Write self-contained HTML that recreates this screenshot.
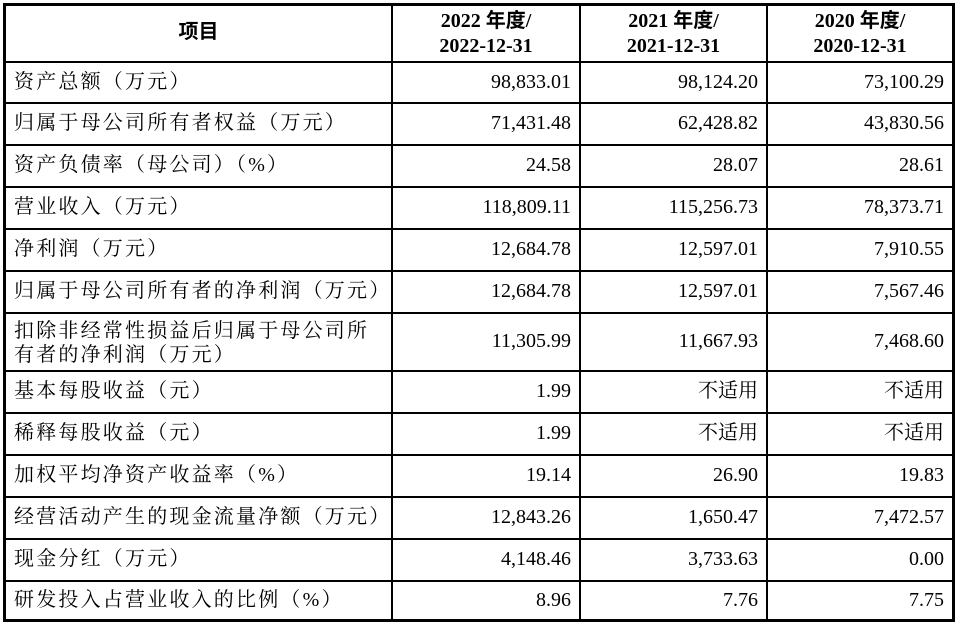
<!DOCTYPE html>
<html><head><meta charset="utf-8"><style>
body{margin:0;background:#fff;width:960px;height:626px;position:relative;overflow:hidden;font-family:"Liberation Serif","Noto Serif CJK SC",serif;color:#000}
.b{position:absolute;background:#000}
.t{position:absolute;font-size:20px;line-height:21px;white-space:nowrap}
.c{font-family:"Liberation Serif","Noto Serif CJK SC",serif}
.lab{letter-spacing:2.2px}
.r{text-align:right}
.h{font-weight:bold;text-align:center;font-size:20px}
.hs{font-family:"Liberation Sans","Noto Sans CJK SC",sans-serif}
</style></head><body>
<div class="b" style="left:3px;top:3px;width:952px;height:3px"></div>
<div class="b" style="left:3px;top:619px;width:952px;height:3px"></div>
<div class="b" style="left:3px;top:3px;width:3px;height:619px"></div>
<div class="b" style="left:952px;top:3px;width:3px;height:619px"></div>
<div class="b" style="left:391px;top:3px;width:2px;height:619px"></div>
<div class="b" style="left:579px;top:3px;width:2px;height:619px"></div>
<div class="b" style="left:766px;top:3px;width:2px;height:619px"></div>
<div id="lines"></div>
<div class="t h hs" style="left:6px;width:385px;top:22px">项目</div>
<div class="t h" style="left:393px;width:186px;top:9px;line-height:25px">2022 <span class="hs">年度</span>/<br>2022-12-31</div>
<div class="t h" style="left:581px;width:185px;top:9px;line-height:25px">2021 <span class="hs">年度</span>/<br>2021-12-31</div>
<div class="t h" style="left:768px;width:184px;top:9px;line-height:25px">2020 <span class="hs">年度</span>/<br>2020-12-31</div>
<div id="rows"></div>
<script>
var ys=[61,102,144,186,228,270,312,370,412,454,496,538,580,620];
var L=document.getElementById('lines'),h='';
for(var i=0;i<ys.length-1;i++)h+='<div class="b" style="left:3px;top:'+ys[i]+'px;width:952px;height:2px"></div>';
L.innerHTML=h;
var d=[["资产总额（万元）","98,833.01","98,124.20","73,100.29"],
["归属于母公司所有者权益（万元）","71,431.48","62,428.82","43,830.56"],
["资产负债率（母公司）（%）","24.58","28.07","28.61"],
["营业收入（万元）","118,809.11","115,256.73","78,373.71"],
["净利润（万元）","12,684.78","12,597.01","7,910.55"],
["归属于母公司所有者的净利润（万元）","12,684.78","12,597.01","7,567.46"],
["扣除非经常性损益后归属于母公司所<br>有者的净利润（万元）","11,305.99","11,667.93","7,468.60"],
["基本每股收益（元）","1.99","不适用","不适用"],
["稀释每股收益（元）","1.99","不适用","不适用"],
["加权平均净资产收益率（%）","19.14","26.90","19.83"],
["经营活动产生的现金流量净额（万元）","12,843.26","1,650.47","7,472.57"],
["现金分红（万元）","4,148.46","3,733.63","0.00"],
["研发投入占营业收入的比例（%）","8.96","7.76","7.75"]];
var R='';
for(var i=0;i<d.length;i++){var m=(ys[i]+ys[i+1])/2+1;
var two=i==6;
R+='<div class="t c lab" style="left:14px;top:'+(two?m-23:m-11)+'px;line-height:'+(two?'24px':'21px')+'">'+d[i][0]+'</div>';
var xs=[[393,579],[581,766],[768,952]];
for(var j=1;j<4;j++){var cj=/[^\d.,]/.test(d[i][j]);
R+='<div class="t r'+(cj?' c':'')+'" style="left:'+xs[j-1][0]+'px;width:'+(xs[j-1][1]-xs[j-1][0]-8)+'px;top:'+(m-11)+'px">'+d[i][j]+'</div>';}}
document.getElementById('rows').innerHTML=R;
</script>
</body></html>
